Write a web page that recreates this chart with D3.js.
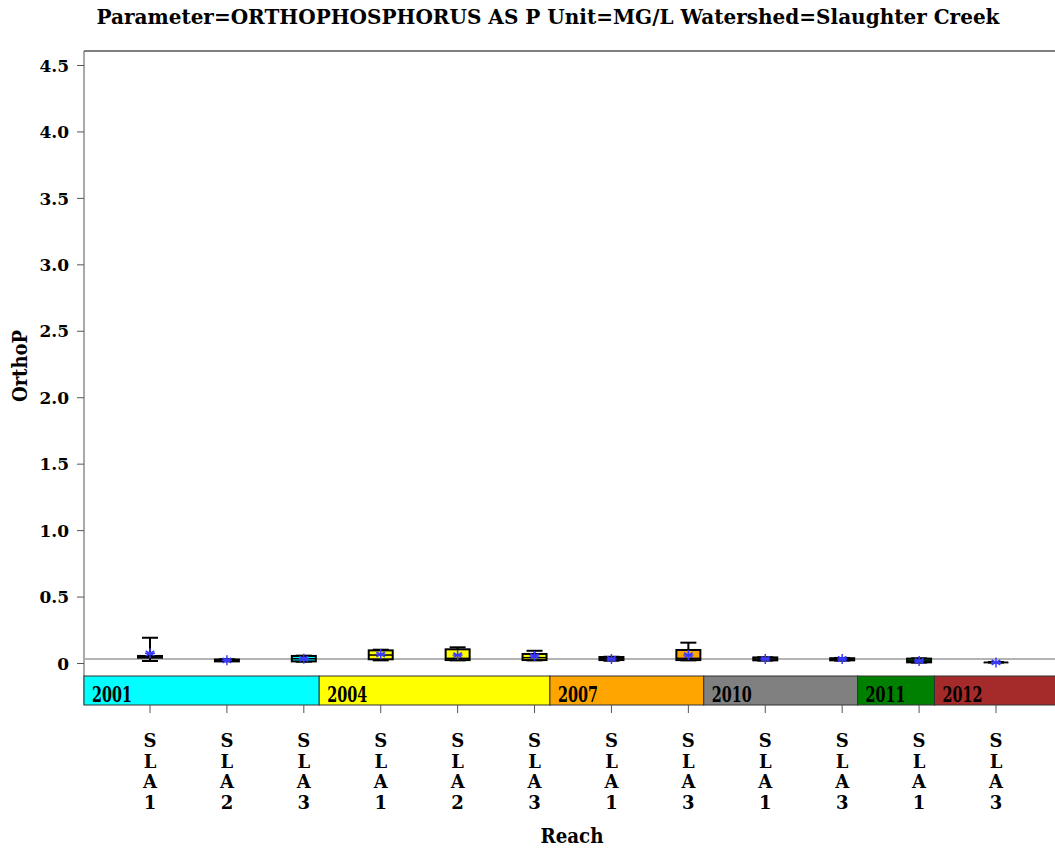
<!DOCTYPE html>
<html>
<head>
<meta charset="utf-8">
<script src="https://cdn.jsdelivr.net/npm/d3@7"></script>
<style>
  html, body { margin: 0; padding: 0; background: #fff; }
  svg { display: block; }
  text { font-family: "DejaVu Serif", "Liberation Serif", serif; font-weight: bold; fill: #000; }
</style>
</head>
<body>
<svg id="chart" width="1055" height="850"></svg>
<script>
// Box statistics for OrthoP (MG/L) by reach and sampling year
const reaches   = ["SLA1", "SLA2", "SLA3", "SLA1", "SLA2", "SLA3", "SLA1", "SLA3", "SLA1", "SLA3", "SLA1", "SLA3"];
const years     = [2001, 2001, 2001, 2004, 2004, 2004, 2007, 2007, 2010, 2010, 2011, 2012];
const whiskLow  = [0.015, 0.015, 0.010, 0.020, 0.020, 0.020, 0.017, 0.020, 0.018, 0.018, 0.003, 0.005];
const q1        = [0.040, 0.012, 0.012, 0.028, 0.022, 0.022, 0.022, 0.022, 0.020, 0.020, 0.005, 0.005];
const medians   = [0.045, 0.020, 0.032, 0.060, 0.035, 0.040, 0.033, 0.035, 0.030, 0.028, 0.015, 0.005];
const q3        = [0.053, 0.026, 0.053, 0.095, 0.103, 0.068, 0.045, 0.098, 0.042, 0.036, 0.033, 0.005];
const whiskHigh = [0.190, 0.028, 0.055, 0.100, 0.118, 0.092, 0.047, 0.153, 0.043, 0.038, 0.035, 0.005];
const means     = [0.073, 0.020, 0.032, 0.065, 0.060, 0.052, 0.030, 0.060, 0.030, 0.030, 0.015, 0.004];
const refLine   = 0.03;
const yTicks    = [0, 0.5, 1.0, 1.5, 2.0, 2.5, 3.0, 3.5, 4.0, 4.5];
const yearColors = {2001: "#00FFFF", 2004: "#FFFF00", 2007: "#FFA500", 2010: "#808080", 2011: "#008000", 2012: "#A52A2A"};

const titleText = "Parameter=ORTHOPHOSPHORUS  AS  P  Unit=MG/L  Watershed=Slaughter  Creek";

const svg = d3.select("#chart");
const plot = { left: 84, right: 1056, top: 51, bottom: 705 };
const bandH = 29;

const y = d3.scaleLinear().domain([0, 4.5]).range([663, 65]);
const idx = reaches.map((d, i) => i);
const x = d3.scalePoint().domain(idx).range([150, 996]);
const step = x.step();

// Title
svg.append("text")
  .attr("x", 548).attr("y", 24)
  .attr("text-anchor", "middle")
  .attr("font-size", 21)
  .attr("textLength", 903).attr("lengthAdjust", "spacingAndGlyphs")
  .text(titleText);

// Frame: top edge and left axis line
svg.append("line").attr("x1", plot.left).attr("x2", plot.right).attr("y1", plot.top).attr("y2", plot.top)
  .attr("stroke", "#000").attr("stroke-width", 1);
svg.append("line").attr("x1", plot.left).attr("x2", plot.left).attr("y1", plot.top).attr("y2", plot.bottom)
  .attr("stroke", "#555").attr("stroke-width", 1);

// Y axis
const yAxis = svg.append("g").attr("transform", `translate(${plot.left},0)`)
  .call(d3.axisLeft(y).tickValues(yTicks).tickSize(7).tickPadding(8)
    .tickFormat(d => d === 0 ? "0" : d3.format(".1f")(d)));
yAxis.select(".domain").remove();
yAxis.selectAll(".tick line").attr("stroke", "#555");
yAxis.selectAll(".tick text")
  .attr("font-family", "DejaVu Serif, serif").attr("font-weight", "bold")
  .attr("font-size", 17).attr("fill", "#000").attr("dy", "0.36em");

svg.append("text")
  .attr("transform", "translate(27,366) rotate(-90)")
  .attr("text-anchor", "middle").attr("font-size", 20)
  .attr("textLength", 72).attr("lengthAdjust", "spacingAndGlyphs")
  .text("OrthoP");

// Year band along the bottom of the plot
const groups = [];
years.forEach((yr, i) => {
  if (!groups.length || groups[groups.length - 1].year !== yr) groups.push({ year: yr, first: i, last: i });
  else groups[groups.length - 1].last = i;
});
const bandY = plot.bottom - bandH;
groups.forEach((g, gi) => {
  const x0 = gi === 0 ? plot.left : x(g.first) - 0.8 * step;
  const x1 = gi === groups.length - 1 ? plot.right : x(groups[gi + 1].first) - 0.8 * step;
  svg.append("rect").attr("x", x0).attr("y", bandY).attr("width", x1 - x0).attr("height", bandH)
    .attr("fill", yearColors[g.year]).attr("stroke", "#333").attr("stroke-width", 1);
  svg.append("text").attr("x", x0 + 8).attr("y", bandY + 26)
    .attr("font-size", 23).attr("textLength", 40).attr("lengthAdjust", "spacingAndGlyphs")
    .text(g.year);
});

// Reference line
svg.append("line").attr("x1", plot.left).attr("x2", plot.right)
  .attr("y1", y(refLine)).attr("y2", y(refLine))
  .attr("stroke", "#b4b4b4").attr("stroke-width", 2);

// Boxes
const boxW = 24, capW = 16;
const boxes = svg.append("g").selectAll("g").data(idx).join("g");
boxes.append("line")
  .attr("x1", i => x(i)).attr("x2", i => x(i))
  .attr("y1", i => y(whiskHigh[i])).attr("y2", i => y(whiskLow[i]))
  .attr("stroke", "#000").attr("stroke-width", 2);
boxes.append("line")
  .attr("x1", i => x(i) - capW / 2).attr("x2", i => x(i) + capW / 2)
  .attr("y1", i => y(whiskHigh[i])).attr("y2", i => y(whiskHigh[i]))
  .attr("stroke", "#000").attr("stroke-width", 2);
boxes.append("line")
  .attr("x1", i => x(i) - capW / 2).attr("x2", i => x(i) + capW / 2)
  .attr("y1", i => y(whiskLow[i])).attr("y2", i => y(whiskLow[i]))
  .attr("stroke", "#000").attr("stroke-width", 2);
boxes.append("rect")
  .attr("x", i => x(i) - boxW / 2).attr("width", boxW)
  .attr("y", i => y(q3[i])).attr("height", i => Math.max(0.5, y(q1[i]) - y(q3[i])))
  .attr("fill", i => yearColors[years[i]])
  .attr("stroke", "#000").attr("stroke-width", i => q3[i] === q1[i] ? 1 : 2);
boxes.append("line")
  .attr("x1", i => x(i) - boxW / 2).attr("x2", i => x(i) + boxW / 2)
  .attr("y1", i => y(medians[i])).attr("y2", i => y(medians[i]))
  .attr("stroke", "#000").attr("stroke-width", 1.5);

// Mean markers: asterisk
const r = 5;
const star = `M0,${-r}V${r}M${-r*0.87},${-r/2}L${r*0.87},${r/2}M${-r*0.87},${r/2}L${r*0.87},${-r/2}M${-r},0H${r}`;
boxes.append("path")
  .attr("transform", i => `translate(${x(i)},${y(means[i])})`)
  .attr("d", star)
  .attr("fill", "none").attr("stroke", "#3a3aff").attr("stroke-width", 1.5);

// X ticks and stacked-letter category labels
const xt = svg.append("g");
idx.forEach(i => {
  xt.append("line").attr("x1", x(i)).attr("x2", x(i)).attr("y1", plot.bottom).attr("y2", plot.bottom + 8)
    .attr("stroke", "#555");
  const t = xt.append("text").attr("text-anchor", "middle").attr("font-size", 18);
  reaches[i].split("").forEach((ch, k) => {
    t.append("tspan").attr("x", x(i)).attr("y", 747 + k * 20.5).text(ch);
  });
});

svg.append("text")
  .attr("x", 572).attr("y", 843)
  .attr("text-anchor", "middle").attr("font-size", 20)
  .attr("textLength", 63).attr("lengthAdjust", "spacingAndGlyphs")
  .text("Reach");
</script>
</body>
</html>
